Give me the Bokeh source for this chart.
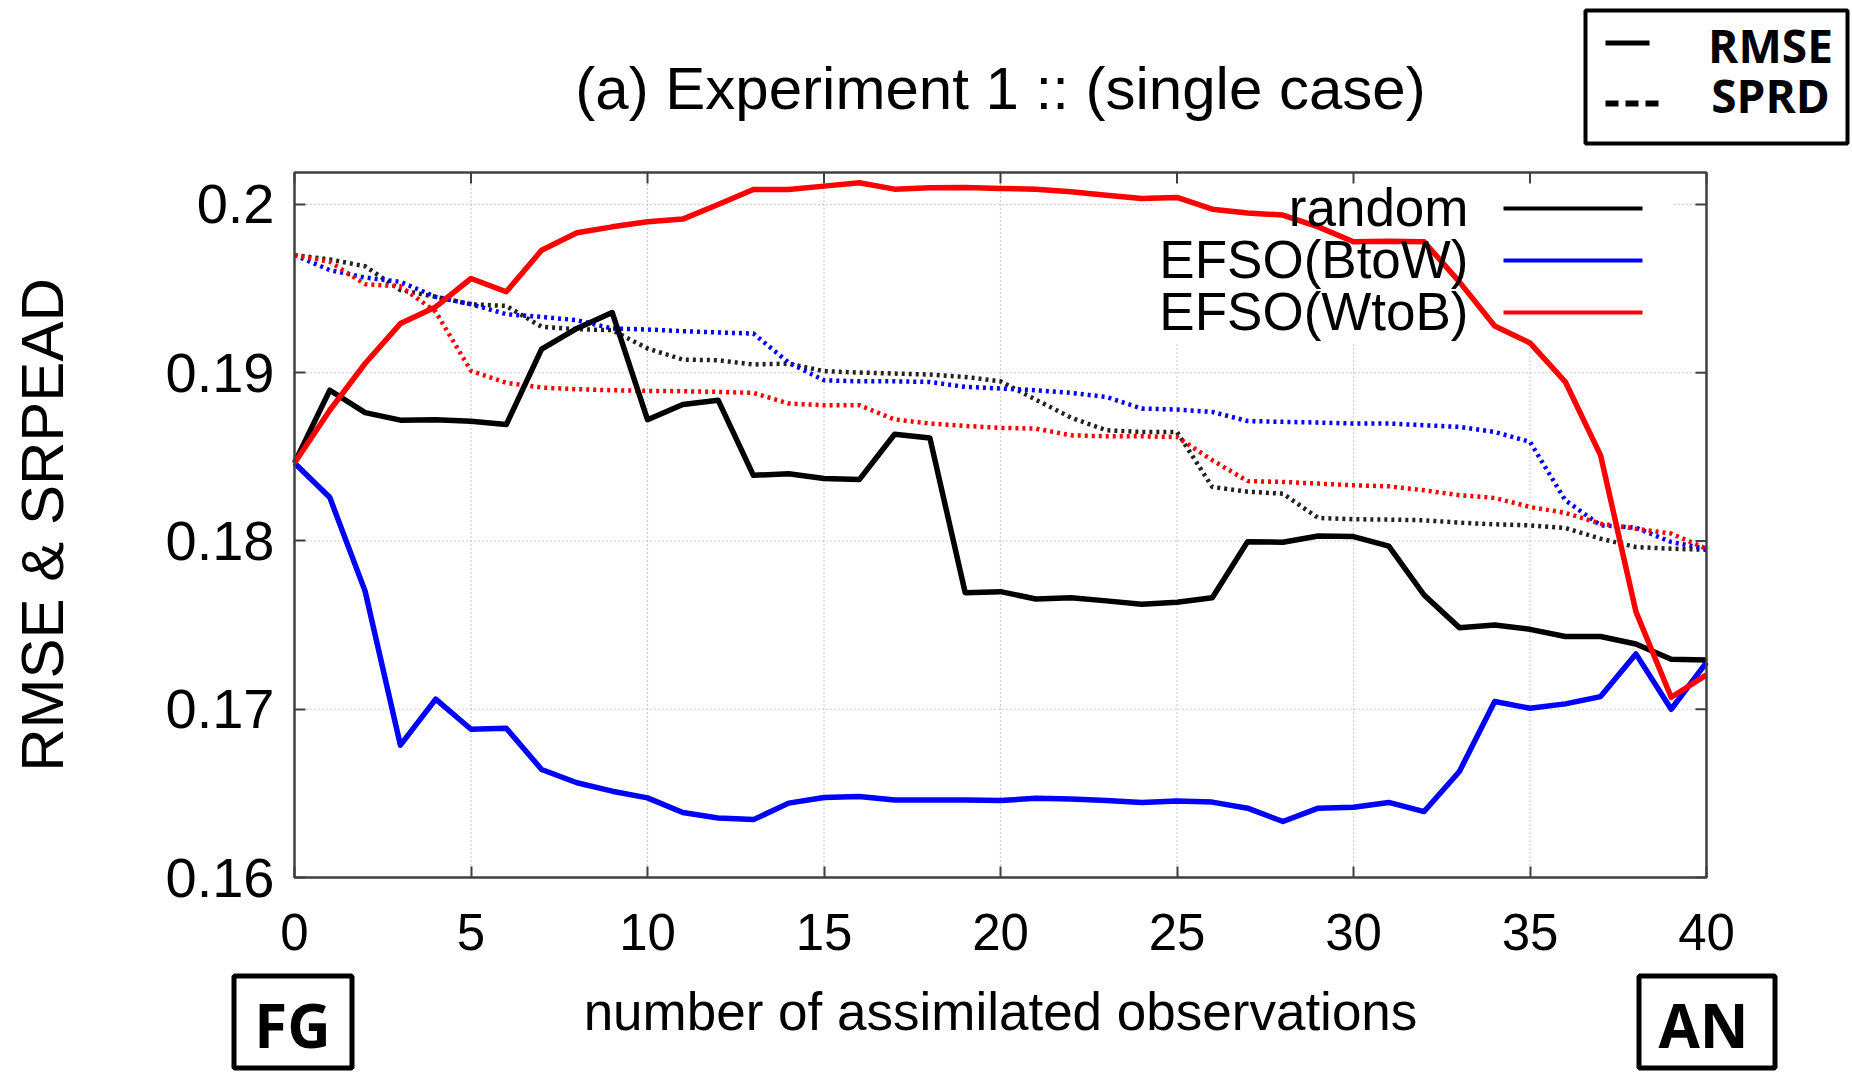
from bokeh.plotting import figure
from bokeh.models import Range1d, FixedTicker, BoxAnnotation, Label
from bokeh.embed import file_html
from bokeh.resources import INLINE

# number of assimilated observations
obs = list(range(41))

# RMSE (solid) and ensemble spread (dotted) for each ordering
random_rmse = [0.18464, 0.18896, 0.18763, 0.18718, 0.18721, 0.18712, 0.18692, 0.19140, 0.19263, 0.19358,
               0.18721, 0.18811, 0.18837, 0.18390, 0.18400, 0.18371, 0.18365, 0.18634, 0.18612, 0.17693,
               0.17699, 0.17655, 0.17663, 0.17644, 0.17624, 0.17636, 0.17663, 0.17996, 0.17992, 0.18030,
               0.18026, 0.17970, 0.17679, 0.17485, 0.17501, 0.17475, 0.17432, 0.17432, 0.17388, 0.17297,
               0.17293]
btow_rmse = [0.18464, 0.18258, 0.17702, 0.16787, 0.17060, 0.16881, 0.16887, 0.16642, 0.16563, 0.16513,
             0.16473, 0.16386, 0.16354, 0.16344, 0.16442, 0.16475, 0.16481, 0.16461, 0.16461, 0.16461,
             0.16457, 0.16471, 0.16467, 0.16457, 0.16446, 0.16455, 0.16448, 0.16412, 0.16333, 0.16412,
             0.16418, 0.16446, 0.16392, 0.16630, 0.17046, 0.17006, 0.17032, 0.17075, 0.17329, 0.17000,
             0.17279]
wtob_rmse = [0.18464, 0.18777, 0.19055, 0.19292, 0.19391, 0.19560, 0.19481, 0.19728, 0.19832, 0.19867,
             0.19897, 0.19913, 0.20000, 0.20089, 0.20089, 0.20109, 0.20129, 0.20091, 0.20099, 0.20101,
             0.20095, 0.20091, 0.20075, 0.20055, 0.20036, 0.20042, 0.19972, 0.19949, 0.19937, 0.19867,
             0.19778, 0.19782, 0.19778, 0.19540, 0.19278, 0.19177, 0.18946, 0.18509, 0.17580, 0.17071,
             0.17204]
random_sprd = [0.19699, 0.19673, 0.19633, 0.19491, 0.19451, 0.19407, 0.19397, 0.19273, 0.19259, 0.19253,
               0.19144, 0.19078, 0.19074, 0.19049, 0.19054, 0.19009, 0.19001, 0.18995, 0.18989, 0.18975,
               0.18949, 0.18840, 0.18733, 0.18658, 0.18648, 0.18648, 0.18321, 0.18293, 0.18281, 0.18137,
               0.18129, 0.18127, 0.18123, 0.18109, 0.18099, 0.18093, 0.18077, 0.18014, 0.17964, 0.17954,
               0.17948]
btow_sprd = [0.19699, 0.19610, 0.19566, 0.19540, 0.19451, 0.19407, 0.19348, 0.19332, 0.19312, 0.19263,
             0.19257, 0.19247, 0.19239, 0.19233, 0.19060, 0.18955, 0.18949, 0.18949, 0.18945, 0.18916,
             0.18906, 0.18896, 0.18880, 0.18856, 0.18787, 0.18781, 0.18767, 0.18713, 0.18708, 0.18704,
             0.18698, 0.18698, 0.18688, 0.18678, 0.18648, 0.18589, 0.18242, 0.18093, 0.18079, 0.17994,
             0.17954]
wtob_sprd = [0.19699, 0.19659, 0.19526, 0.19514, 0.19362, 0.19011, 0.18940, 0.18912, 0.18902, 0.18896,
             0.18892, 0.18890, 0.18886, 0.18880, 0.18817, 0.18807, 0.18807, 0.18722, 0.18698, 0.18684,
             0.18672, 0.18668, 0.18628, 0.18622, 0.18622, 0.18618, 0.18480, 0.18356, 0.18351, 0.18341,
             0.18331, 0.18325, 0.18301, 0.18272, 0.18256, 0.18202, 0.18167, 0.18103, 0.18073, 0.18044,
             0.17954]

series_names = ["random", "EFSO(BtoW)", "EFSO(WtoB)"]
series_colors = ["#000000", "#0000ff", "#ff0000"]
sprd_colors = ["#222222", "#0000ff", "#ff0000"]

x_ticks = [0, 5, 10, 15, 20, 25, 30, 35, 40]
y_ticks = [0.16, 0.17, 0.18, 0.19, 0.2]
y_tick_labels = ["0.16", "0.17", "0.18", "0.19", "0.2"]

title_text = "(a) Experiment 1 :: (single case)"
x_label = "number of assimilated observations"
y_label = "RMSE & SRPEAD"

W, H = 1852, 1073
FL, FR, FT, FB = 294, 1706, 172, 877   # plot box on the page (pixels)
X0, X1 = 0, 40
Y0, Y1 = 0.16, 0.2019

SANS = "Liberation Sans"
BOLD = "Open Sans"
BASE_SHIFT = 0.40          # alphabetic baseline correction, in em
FRAME_COLOR = "#404040"


def dx(px):
    """page column -> data x"""
    return X0 + (px - FL) * (X1 - X0) / (FR - FL)


def dy(py):
    """page row -> data y"""
    return Y0 + (FB - py) * (Y1 - Y0) / (FB - FT)


# the canvas is one big frame; the plot box sits inside it
p = figure(width=W, height=H,
           x_range=Range1d(dx(0), dx(W)), y_range=Range1d(dy(H), dy(0)),
           output_backend="svg", toolbar_location=None, min_border=0)
p.outline_line_color = None
p.background_fill_color = "white"
p.border_fill_color = "white"
p.grid.visible = False


def text_at(px, baseline_py, txt, size, font, style="normal", align="center"):
    p.add_layout(Label(x=dx(px), y=dy(baseline_py - BASE_SHIFT * size), text=txt,
                       text_align=align, text_baseline="alphabetic", text_font=font,
                       text_font_style=style, text_font_size=f"{size}px",
                       text_color="black"))


def outline_box(l, r, t, b, width, color="black"):
    p.add_layout(BoxAnnotation(left=dx(l), right=dx(r), top=dy(t), bottom=dy(b),
                               fill_color=None, line_color=color, line_alpha=1.0,
                               line_width=width))


def solid_box(l, r, t, b, color):
    p.add_layout(BoxAnnotation(left=dx(l), right=dx(r), top=dy(t), bottom=dy(b),
                               fill_color=color, fill_alpha=1.0, line_color=None))


# ---------------- axes pinned to the plot box ----------------
xa = p.xaxis[0]
ya = p.yaxis[0]
xa.fixed_location = Y0
ya.fixed_location = X0
xa.bounds = (X0, X1)
ya.bounds = (Y0, Y1)
xa.ticker = FixedTicker(ticks=x_ticks)
ya.ticker = FixedTicker(ticks=y_ticks)
ya.major_label_overrides = {t: s for t, s in zip(y_ticks, y_tick_labels)}
for ax in (xa, ya):
    ax.axis_line_color = None
    ax.major_tick_in = 11
    ax.major_tick_out = 0
    ax.major_tick_line_color = FRAME_COLOR
    ax.major_tick_line_width = 2
    ax.minor_tick_in = 0
    ax.minor_tick_out = 0
    ax.major_label_text_font = SANS
    ax.major_label_text_color = "black"
    ax.axis_label_text_font = SANS
    ax.axis_label_text_font_style = "normal"
    ax.axis_label_text_color = "black"

xa.major_label_text_font_size = "51px"
xa.major_label_standoff = 36
xa.axis_label = x_label
xa.axis_label_text_font_size = "53px"
xa.axis_label_standoff = 29

ya.major_label_text_font_size = "56px"
ya.major_label_standoff = 20
ya.axis_label = y_label
ya.axis_label_text_font_size = "60px"
ya.axis_label_standoff = 87

# dotted grid inside the plot box
inner_x = [t for t in x_ticks if X0 < t < X1]
inner_y = [t for t in y_ticks if Y0 < t < Y1]
grid_style = dict(line_color="#a0a0a0", line_width=1.2, line_dash="1 3")
p.segment(x0=inner_x, y0=Y0, x1=inner_x, y1=Y1, **grid_style)
p.segment(x0=X0, y0=inner_y, x1=X1, y1=inner_y, **grid_style)

# key background hides the grid behind the series key
p.quad(left=dx(1153), right=dx(1672), bottom=dy(343), top=Y1,
       fill_color="white", line_color=None)

# mirrored tick marks on the top and right edges
tick_w = 11 * (X1 - X0) / (FR - FL)
tick_h = 11 * (Y1 - Y0) / (FB - FT)
p.segment(x0=x_ticks, y0=Y1, x1=x_ticks, y1=Y1 - tick_h, line_color=FRAME_COLOR, line_width=2)
p.segment(x0=X1, y0=y_ticks, x1=X1 - tick_w, y1=y_ticks, line_color=FRAME_COLOR, line_width=2)

# ---------------- data ----------------
for ys, c in zip([random_sprd, btow_sprd, wtob_sprd], sprd_colors):
    p.line(obs, ys, line_color=c, line_width=4.5, line_dash="3 4")

for ys, c in zip([random_rmse, btow_rmse, wtob_rmse], series_colors):
    p.line(obs, ys, line_color=c, line_width=5.5, line_join="round")

# plot box border
p.add_layout(BoxAnnotation(left=X0, right=X1, bottom=Y0, top=Y1, fill_color=None,
                           line_color=FRAME_COLOR, line_alpha=1.0, line_width=2.5))

# series key: names right-aligned with a line sample on their right
key_baselines = [228, 280, 332]
for name, c, base in zip(series_names, series_colors, key_baselines):
    text_at(1468, base, name, 53, SANS, align="right")
    mid = base - 20
    solid_box(1503, 1642, mid - 2, mid + 2, c)

# ---------------- title and line-style key ----------------
text_at(1000, 112, title_text, 60, SANS)
outline_box(1585, 1847, 10, 143, 4)
solid_box(1605, 1649, 40, 45, "black")
for a, b in ((1605, 1618), (1625, 1638), (1645, 1658)):
    solid_box(a, b, 100, 106, "black")
text_at(1770, 63, "RMSE", 46, BOLD, "bold")
text_at(1770, 113, "SPRD", 46, BOLD, "bold")

# ---------------- FG / AN markers under the ends of the axis ----------------
for txt, l, r, cx in (("FG", 231, 354, 292), ("AN", 1636, 1777, 1703)):
    outline_box(l + 2.5, r - 2.5, 975.5, 1067.5, 5)
    text_at(cx, 1048, txt, 60, BOLD, "bold")

open("out.html", "w").write(file_html(p, INLINE))
